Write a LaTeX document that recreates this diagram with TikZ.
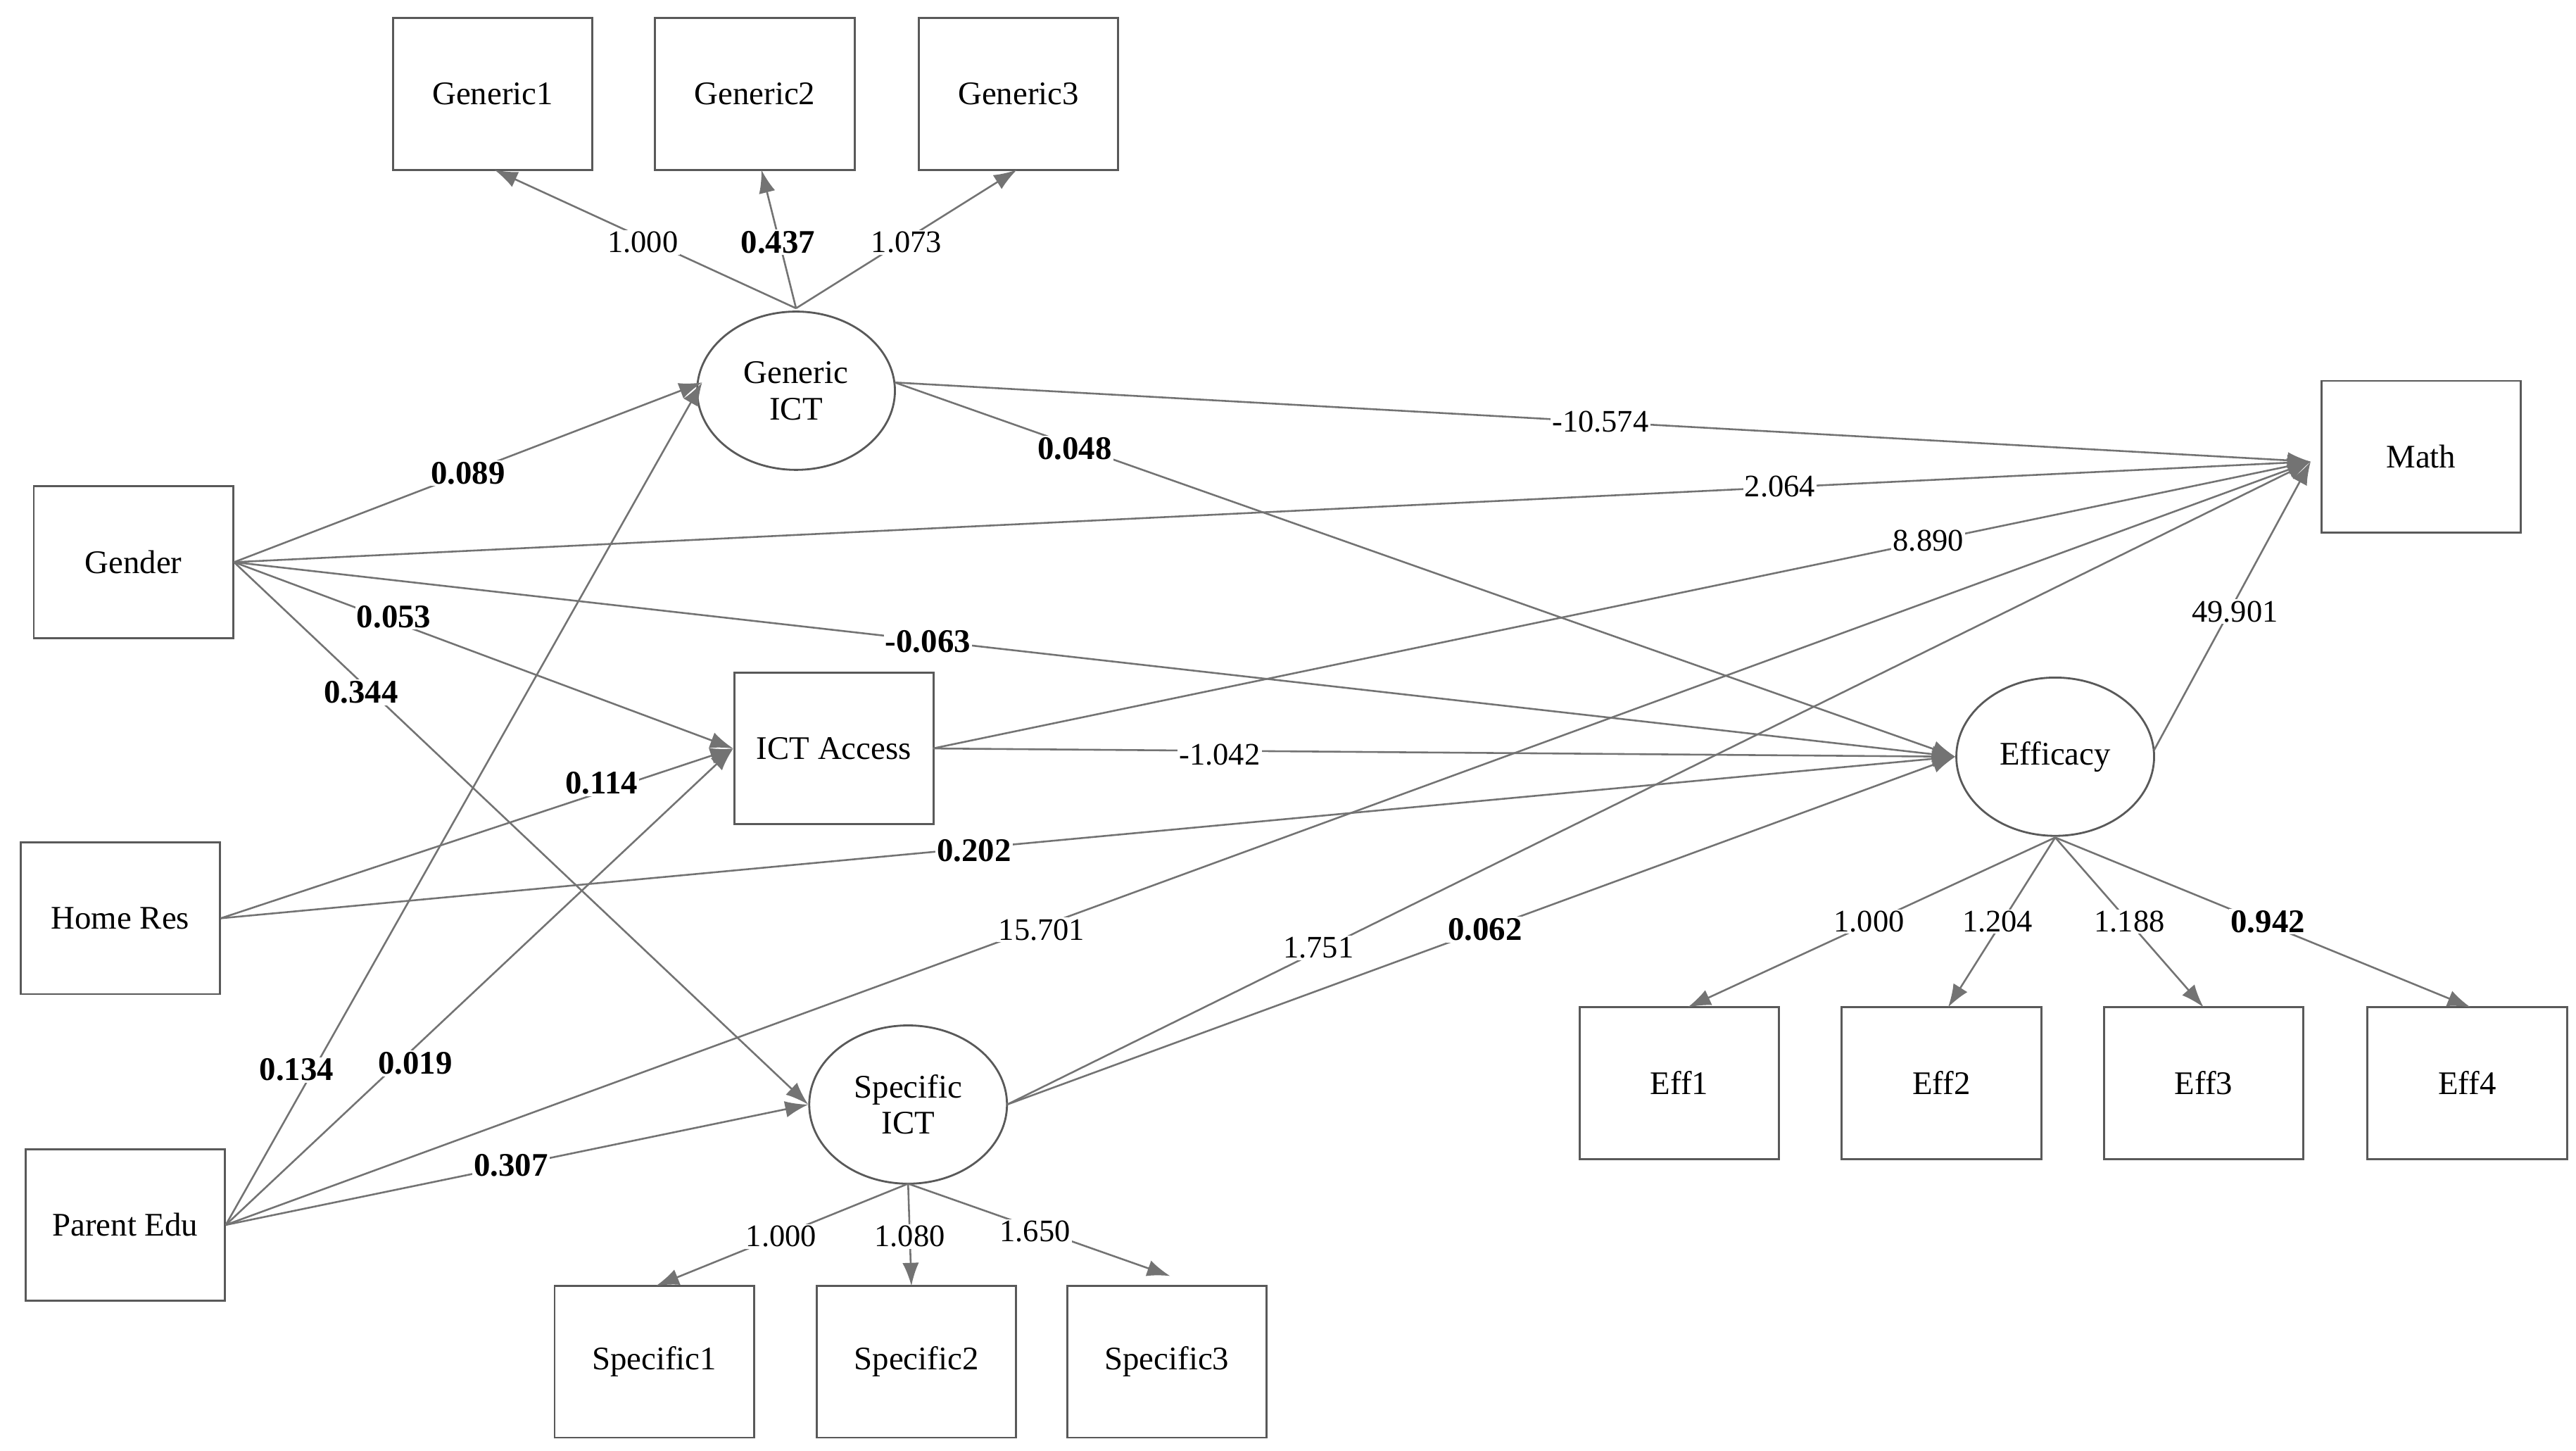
\documentclass[tikz,border=0pt]{standalone}
\usepackage{fontspec}
\setmainfont{Liberation Serif}
\usetikzlibrary{arrows.meta,shapes.geometric}
\begin{document}
\begin{tikzpicture}[x=1pt,y=-1pt,
  box/.style={draw=black!65,line width=1.2pt,minimum width=121pt,minimum height=92pt,inner sep=0pt,font=\fontsize{20}{24}\selectfont},
  lat/.style={draw=black!65,line width=1.2pt,ellipse,minimum width=120pt,minimum height=96pt,inner sep=0pt,align=center,font=\fontsize{20}{22}\selectfont},
  path/.style={draw=black!55,line width=1.1pt,-{Latex[length=14pt,width=10pt]},shorten >=0pt},
  lb/.style={fill=white,inner sep=1pt,font=\fontsize{19}{22}\selectfont},
  bl/.style={lb,font=\fontsize{20}{22}\selectfont\bfseries}]
\useasboundingbox (0,0) rectangle (1563,880);
\node[box] (G1) at (299,57) {Generic1};
\node[box] (G2) at (458,57) {Generic2};
\node[box] (G3) at (618,57) {Generic3};
\node[lat] (gict) at (483,237) {Generic\\ICT};
\node[box] (math) at (1469,277) {Math};
\node[box] (gender) at (81,341) {Gender};
\node[box] (acc) at (506,454) {ICT Access};
\node[lat] (eff) at (1247,459) {Efficacy};
\node[box] (home) at (73,557) {Home Res};
\node[box] (par) at (76,743) {Parent Edu};
\node[lat] (sict) at (551,670) {Specific\\ICT};
\node[box] (S1) at (397,826) {Specific1};
\node[box] (S2) at (556,826) {Specific2};
\node[box] (S3) at (708,826) {Specific3};
\node[box] (E1) at (1019,657) {Eff1};
\node[box] (E2) at (1178,657) {Eff2};
\node[box] (E3) at (1337,657) {Eff3};
\node[box] (E4) at (1497,657) {Eff4};
\coordinate (mi) at (1402,280);
\coordinate (gi) at (426,232);
\coordinate (gin) at (483,187);
\coordinate (sin) at (551,718);
\coordinate (ein) at (1247,508);
\coordinate (go) at (543,232);
\coordinate (gs) at (142,341);
\coordinate (hs) at (134,557);
\coordinate (ps) at (137,743);
\coordinate (ao) at (566,454);
\coordinate (so) at (611,670);
\coordinate (eo) at (1307,455);
\coordinate (E1t) at (1024,611);
\coordinate (E2t) at (1182,611);
\coordinate (E3t) at (1337,611);
\coordinate (E4t) at (1499,611);
\coordinate (G1b) at (300,103);
\coordinate (G2b) at (462,103);
\coordinate (G3b) at (617,103);
\coordinate (S1t) at (398,780);
\coordinate (S2t) at (553,780);
\coordinate (S3t) at (710,774);
% loadings
\draw[path] (gin) -- (G1b); \draw[path] (gin) -- (G2b); \draw[path] (gin) -- (G3b);
\draw[path] (sin) -- (S1t); \draw[path] (sin) -- (S2t); \draw[path] (sin) -- (S3t);
\draw[path] (ein) -- (E1t); \draw[path] (ein) -- (E2t); \draw[path] (ein) -- (E3t); \draw[path] (ein) -- (E4t);
% structural
\draw[path] (gs) -- (gi);
\draw[path] (ps) -- (gi);
\draw[path] (gs) -- (mi);
\draw[path] (gs) -- (acc.west);
\draw[path] (gs) -- (eff.west);
\draw[path] (gs) -- (sict.west);
\draw[path] (hs) -- (acc.west);
\draw[path] (hs) -- (eff.west);
\draw[path] (ps) -- (acc.west);
\draw[path] (ps) -- (sict.west);
\draw[path] (ps) -- (mi);
\draw[path] (go) -- (mi);
\draw[path] (go) -- (eff.west);
\draw[path] (ao) -- (mi);
\draw[path] (ao) -- (eff.west);
\draw[path] (so) -- (mi);
\draw[path] (so) -- (eff.west);
\draw[path] (eo) -- (mi);
% labels
\node[lb] (l1) at (390,147) {1.000};
\node[bl] (l2) at (472,147) {0.437};
\node[lb] (l3) at (550,147) {1.073};
\node[bl] (l4) at (284,287) {0.089};
\node[bl] (l5) at (652,272) {0.048};
\node[lb] (l6) at (971,256) {-10.574};
\node[lb] (l7) at (1080,295) {2.064};
\node[lb] (l8) at (1170,328) {8.890};
\node[lb] (l9) at (1356,371) {49.901};
\node[bl] (l10) at (239,374) {0.053};
\node[bl] (l11) at (563,389) {-0.063};
\node[bl] (l12) at (219,420) {0.344};
\node[bl] (l13) at (365,475) {0.114};
\node[lb] (l14) at (740,458) {-1.042};
\node[bl] (l15) at (591,516) {0.202};
\node[lb] (l16) at (632,564) {15.701};
\node[lb] (l17) at (800,575) {1.751};
\node[bl] (l18) at (901,564) {0.062};
\node[bl] (l19) at (180,649) {0.134};
\node[bl] (l20) at (252,645) {0.019};
\node[bl] (l21) at (310,707) {0.307};
\node[lb] (l22) at (1134,559) {1.000};
\node[lb] (l23) at (1212,559) {1.204};
\node[lb] (l24) at (1292,559) {1.188};
\node[bl] (l25) at (1376,559) {0.942};
\node[lb] (l26) at (474,750) {1.000};
\node[lb] (l27) at (552,750) {1.080};
\node[lb] (l28) at (628,747) {1.650};
\end{tikzpicture}
\end{document}
